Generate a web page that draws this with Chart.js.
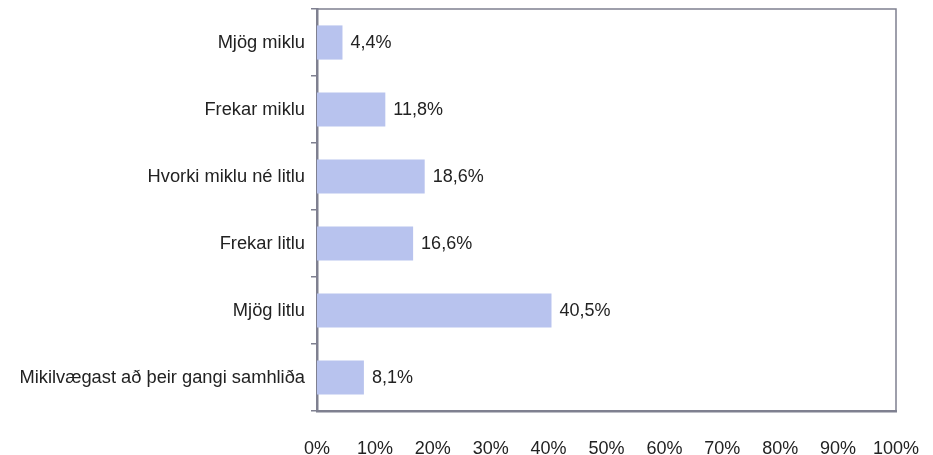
<!DOCTYPE html>
<html>
<head>
<meta charset="utf-8">
<script src="https://cdn.jsdelivr.net/npm/chart.js@4/dist/chart.umd.min.js"></script>
<style>
html,body{margin:0;padding:0;background:#fff;}
#wrap{width:933px;height:455px;position:relative;}
</style>
</head>
<body>
<div id="wrap"><canvas id="c"></canvas></div>
<script>
const categories = ["Mjög miklu", "Frekar miklu", "Hvorki miklu né litlu", "Frekar litlu", "Mjög litlu", "Mikilvægast að þeir gangi samhliða"];
const values = [4.4, 11.8, 18.6, 16.6, 40.5, 8.1];
const xTicks = [0, 10, 20, 30, 40, 50, 60, 70, 80, 90, 100];

const FONT = "'Liberation Sans', Arial, sans-serif";
const AXIS = '#7f8090';

const frame = {
  id: 'frame',
  afterDatasetsDraw(chart) {
    const {ctx, chartArea: a} = chart;
    ctx.save();
    ctx.strokeStyle = AXIS;
    ctx.lineWidth = 1.5;
    ctx.beginPath();
    ctx.moveTo(a.left, a.top);
    ctx.lineTo(a.right, a.top);
    ctx.lineTo(a.right, a.bottom);
    ctx.stroke();
    const meta = chart.getDatasetMeta(0);
    ctx.fillStyle = '#222';
    ctx.font = '18px ' + FONT;
    ctx.textBaseline = 'alphabetic';
    ctx.textAlign = 'left';
    meta.data.forEach((bar, i) => {
      const txt = values[i].toFixed(1).replace('.', ',') + '%';
      ctx.fillText(txt, bar.x + 8, bar.y + 5);
    });
    ctx.restore();
  }
};

function zeroPad(scale) {
  scale.paddingTop = 0; scale.paddingBottom = 0;
  scale.paddingLeft = 0; scale.paddingRight = 0;
}

new Chart(document.getElementById('c'), {
  type: 'bar',
  data: {
    labels: categories,
    datasets: [{
      data: values,
      backgroundColor: '#b8c3ee',
      borderWidth: 0,
      categoryPercentage: 1,
      barPercentage: 0.51
    }]
  },
  options: {
    indexAxis: 'y',
    responsive: true,
    maintainAspectRatio: false,
    animation: false,
    layout: { padding: { left: 0, right: 37, top: 9, bottom: 0 } },
    plugins: { legend: { display: false }, tooltip: { enabled: false } },
    scales: {
      x: {
        min: 0, max: 100,
        afterBuildTicks(scale) { scale.ticks = xTicks.map(v => ({value: v})); },
        afterFit(scale) { scale.height = 44; zeroPad(scale); },
        grid: { display: false },
        border: { display: true, color: AXIS, width: 2.5 },
        ticks: {
          color: '#222',
          font: { family: FONT, size: 18 },
          padding: 19,
          maxRotation: 0,
          callback: v => v + '%'
        }
      },
      y: {
        afterFit(scale) { scale.width = 317; zeroPad(scale); },
        grid: { display: true, drawOnChartArea: false, drawTicks: true, tickLength: 6, color: AXIS, lineWidth: 1.5, offset: true },
        border: { display: true, color: AXIS, width: 2.5 },
        ticks: {
          color: '#222',
          font: { family: FONT, size: 18.3 },
          padding: 6
        }
      }
    }
  },
  plugins: [frame]
});
</script>
</body>
</html>
